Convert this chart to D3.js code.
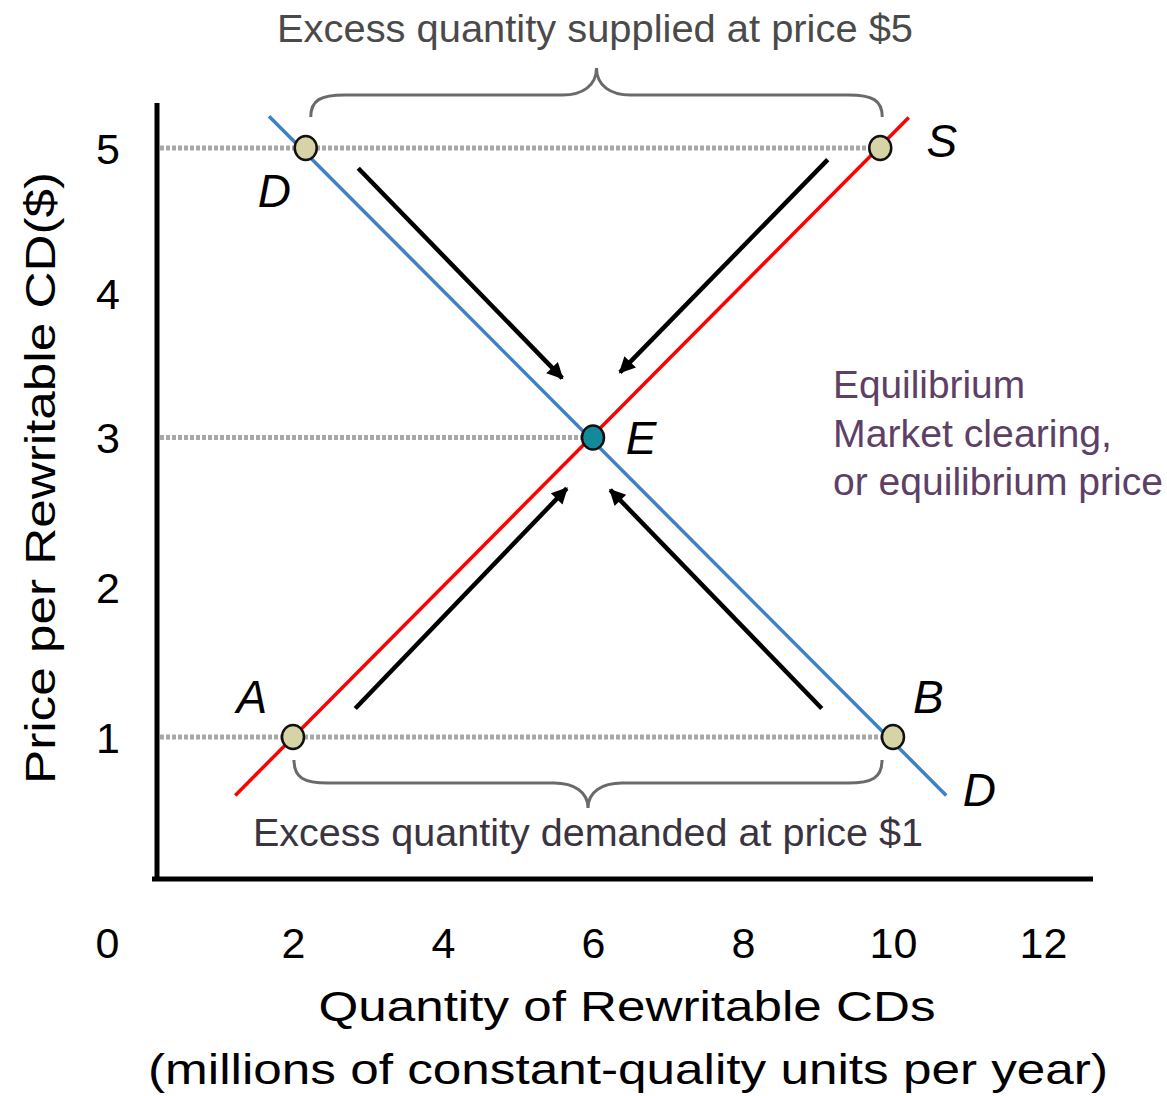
<!DOCTYPE html>
<html><head><meta charset="utf-8">
<script src="https://cdn.jsdelivr.net/npm/d3@7"></script>
<style>body{margin:0;background:#fff}svg{display:block;font-family:"Liberation Sans",Arial,sans-serif}</style>
</head><body>
<svg id="c" width="1167" height="1096"></svg>
<script>
const xTicks = [0, 2, 4, 6, 8, 10, 12];
const yTicks = [1, 2, 3, 4, 5];
const demandLine = [[1.68, 5.22], [10.71, 0.61]];
const supplyLine = [[1.23, 0.61], [10.21, 5.21]];
const points = [
  {q: 2.17, p: 5, kind: "d"}, {q: 9.83, p: 5, kind: "s"},
  {q: 2, p: 1, kind: "s"}, {q: 10, p: 1, kind: "d"},
  {q: 6, p: 3, kind: "e"}
];
const guidePrices = [{p: 5, q: 9.83}, {p: 3, q: 6}, {p: 1, q: 10}];
const arrows = [
  {from: [2.87, 4.86], to: [5.59, 3.41]},
  {from: [9.13, 4.92], to: [6.36, 3.45]},
  {from: [2.83, 1.19], to: [5.65, 2.66]},
  {from: [9.05, 1.19], to: [6.23, 2.65]}
];
const letterLabels = [
  {t: "D", q: 1.75, p: 4.71}, {t: "S", q: 10.65, p: 5.05},
  {t: "E", q: 6.64, p: 3.0}, {t: "A", q: 1.45, p: 1.27},
  {t: "B", q: 10.47, p: 1.27}, {t: "D", q: 11.15, p: 0.65}
];

const svg = d3.select("#c");
const x = d3.scaleLinear().domain([0, 12]).range([143, 1043]);
const y = d3.scaleLinear().domain([1, 3, 5]).range([737, 437.5, 148]);

// guide dotted lines
svg.selectAll(".guide").data(guidePrices).join("line")
  .attr("x1", 160).attr("x2", d => x(d.q) - 8)
  .attr("y1", d => y(d.p)).attr("y2", d => y(d.p))
  .attr("stroke", "#a8a8a8").attr("stroke-width", 5)
  .attr("stroke-dasharray", "4,2");

// axes lines
svg.append("line").attr("x1", 157).attr("x2", 157).attr("y1", 103).attr("y2", 880)
  .attr("stroke", "#000").attr("stroke-width", 5);
svg.append("line").attr("x1", 152).attr("x2", 1093).attr("y1", 879).attr("y2", 879)
  .attr("stroke", "#000").attr("stroke-width", 5);

// tick labels via d3 axes
const gx = svg.append("g").attr("transform", "translate(0,924)")
  .call(d3.axisBottom(x).tickValues(xTicks).tickSize(0).tickFormat(d3.format("d")));
gx.select(".domain").remove();
gx.selectAll("text").attr("font-size", 43).attr("fill", "#000")
  .attr("font-family", "Liberation Sans, Arial").attr("dy", "0.71em")
  .attr("transform", d => d === 0 ? "translate(-36,0)" : null);

const gy = svg.append("g").attr("transform", "translate(108,0)")
  .call(d3.axisLeft(y).tickValues(yTicks).tickSize(0).tickFormat(d3.format("d")));
gy.select(".domain").remove();
gy.selectAll("text").attr("font-size", 43).attr("fill", "#000")
  .attr("font-family", "Liberation Sans, Arial").attr("text-anchor", "middle")
  .attr("x", 0).attr("dy", "0.36em");

// axis titles
svg.append("text").attr("x", 627).attr("y", 1021).attr("text-anchor", "middle")
  .attr("font-size", 42).attr("textLength", 617).attr("lengthAdjust", "spacingAndGlyphs")
  .text("Quantity of Rewritable CDs");
svg.append("text").attr("x", 628).attr("y", 1084).attr("text-anchor", "middle")
  .attr("font-size", 42).attr("textLength", 960).attr("lengthAdjust", "spacingAndGlyphs")
  .text("(millions of constant-quality units per year)");
svg.append("text").attr("transform", "translate(55,478) rotate(-90)").attr("text-anchor", "middle")
  .attr("font-size", 42).attr("textLength", 612).attr("lengthAdjust", "spacingAndGlyphs")
  .text("Price per Rewritable CD($)");

// curves
const line = d3.line().x(d => x(d[0])).y(d => y(d[1]));
svg.append("path").datum(demandLine).attr("d", line)
  .attr("stroke", "#4080c4").attr("stroke-width", 3.5).attr("fill", "none");
svg.append("path").datum(supplyLine).attr("d", line)
  .attr("stroke", "#ff0000").attr("stroke-width", 3.5).attr("fill", "none");

// arrows
svg.append("defs").append("marker").attr("id", "ah").attr("viewBox", "0 0 10 10")
  .attr("refX", 9).attr("refY", 5).attr("markerWidth", 5).attr("markerHeight", 3.6)
  .attr("orient", "auto").attr("markerUnits", "strokeWidth")
  .append("path").attr("d", "M0,0 L10,5 L0,10 Z").attr("fill", "#000");
svg.selectAll(".arr").data(arrows).join("line")
  .attr("x1", d => x(d.from[0])).attr("y1", d => y(d.from[1]))
  .attr("x2", d => x(d.to[0])).attr("y2", d => y(d.to[1]))
  .attr("stroke", "#000").attr("stroke-width", 4.5).attr("marker-end", "url(#ah)");

// points
svg.selectAll(".pt").data(points).join("ellipse")
  .attr("cx", d => x(d.q)).attr("cy", d => y(d.p)).attr("rx", 11).attr("ry", 12)
  .attr("fill", d => d.kind === "e" ? "#138a9a" : "#d6d3a6")
  .attr("stroke", "#111").attr("stroke-width", 2.5);

// braces
function brace(x1, x2, yb, dir, h, t) {
  const xm = (x1 + x2) / 2; h *= dir; t *= dir;
  return `M${x1},${yb + h} C${x1},${yb + 5 * dir} ${x1 + 10},${yb} ${x1 + 34},${yb}
    L${xm - 34},${yb} C${xm - 14},${yb} ${xm},${yb - t * 0.35} ${xm},${yb - t}
    C${xm},${yb - t * 0.35} ${xm + 14},${yb} ${xm + 34},${yb}
    L${x2 - 34},${yb} C${x2 - 10},${yb} ${x2},${yb + 5 * dir} ${x2},${yb + h}`;
}
svg.append("path").attr("d", brace(x(2.17) + 5, x(9.83) + 2, y(5) - 53, 1, 22, 27))
  .attr("fill", "none").attr("stroke", "#6a6a6a").attr("stroke-width", 3);
svg.append("path").attr("d", brace(x(2) + 1, x(10) - 11, y(1) + 46, -1, 23, 25))
  .attr("fill", "none").attr("stroke", "#6a6a6a").attr("stroke-width", 3);

// annotation text
svg.append("text").attr("x", 277).attr("y", 42).attr("font-size", 38).attr("fill", "#4a4a4a")
  .attr("textLength", 636).attr("lengthAdjust", "spacingAndGlyphs")
  .text("Excess quantity supplied at price $5");
svg.append("text").attr("x", 253).attr("y", 846).attr("font-size", 38).attr("fill", "#3a3440")
  .attr("textLength", 670).attr("lengthAdjust", "spacingAndGlyphs")
  .text("Excess quantity demanded at price $1");
const eq = ["Equilibrium", "Market clearing,", "or equilibrium price"];
const eqW = [192, 279, 330];
svg.selectAll(".eq").data(eq).join("text")
  .attr("x", 833).attr("y", (d, i) => 398 + i * 48.5).attr("font-size", 38)
  .attr("fill", "#5e3f66").attr("textLength", (d, i) => eqW[i]).attr("lengthAdjust", "spacingAndGlyphs")
  .text(d => d);

// letter labels
svg.selectAll(".lt").data(letterLabels).join("text")
  .attr("x", d => x(d.q)).attr("y", d => y(d.p)).attr("text-anchor", "middle")
  .attr("dy", "0.36em").attr("font-size", 46).attr("font-style", "italic").attr("fill", "#000")
  .text(d => d.t);
</script>
</body></html>
